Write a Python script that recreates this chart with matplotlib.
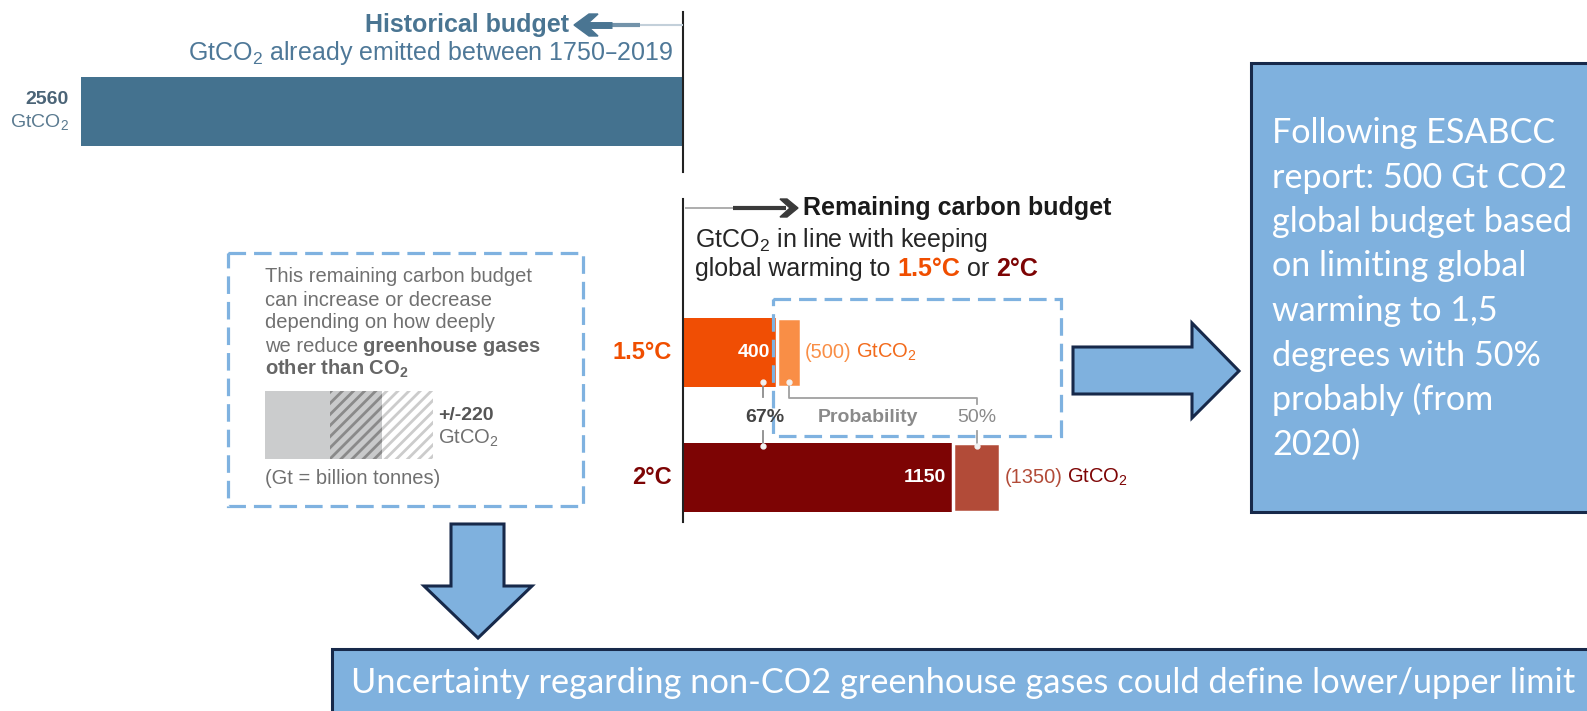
import matplotlib.pyplot as plt
from matplotlib.patches import Polygon, Rectangle

plt.rcParams['font.family'] = ['Liberation Sans', 'DejaVu Sans']
plt.rcParams['mathtext.default'] = 'regular'
plt.rcParams['hatch.linewidth'] = 2.0

# data (GtCO2)
historical = 2560
levels = ['1.5°C', '2°C']
budget_67 = [400, 1150]
budget_50 = [500, 1350]
probabilities = ['67%', '50%']
nonco2_range = 220

right_note = ['Following ESABCC', 'report: 500 Gt CO2', 'global budget based',
              'on limiting global', 'warming to 1,5', 'degrees with 50%',
              'probably (from', '2020)']
bottom_note = 'Uncertainty regarding non-CO2 greenhouse gases could define lower/upper limit'
box_lines = ['This remaining carbon budget', 'can increase or decrease',
             'depending on how deeply']

# layout (pixels)
W, H = 1587, 711
X0 = 683            # zero line
PX_PER_GT = 0.235
BAR_H = 69
Y_HIST = 111.5
Y_LEVELS = [352.5, 477.5]

HIST_COL = '#44728f'
C67 = ['#f04e04', '#7d0404']
C50 = ['#f98e46', '#b24b38']
LABEL_COL = ['#f04e00', '#7d0404']
UNIT_COL = ['#f26a1b', '#7d0404']
BLUE = '#7fb1de'
NAVY = '#17294a'
DASH = '#7fb2e0'

fig = plt.figure(figsize=(W / 100, H / 100), dpi=100)
bx = fig.add_axes([0, 0, 1, 1])
bx.set_xlim(-X0 / PX_PER_GT, (W - X0) / PX_PER_GT)
bx.set_ylim(H, 0)
bx.axis('off')

ax = fig.add_axes([0, 0, 1, 1])
ax.set_xlim(0, W)
ax.set_ylim(H, 0)
ax.axis('off')
ax.patch.set_alpha(0)
ax.set_zorder(3)

renderer = fig.canvas.get_renderer()


def seq_text(x, y, parts, gap, **kw):
    # place text pieces one after another on one line
    for s, props in parts:
        t = ax.text(x, y, s, **{**kw, **props})
        x = t.get_window_extent(renderer).x1 + gap
    return x


# --- historical budget ---
bx.barh(Y_HIST, historical, left=-historical, height=BAR_H, color=HIST_COL)
ax.plot([X0, X0], [12, 172], color='#222222', lw=1.5)
ax.plot([X0, X0], [199, 522], color='#222222', lw=1.5)

ax.plot([635, X0], [25, 25], color='#c3d0da', lw=1.5, solid_capstyle='butt')
ax.plot([610, 640], [25, 25], color='#7393aa', lw=3, solid_capstyle='butt')
ax.plot([586, 612], [25, 25], color='#4a7592', lw=5, solid_capstyle='butt')
ax.add_patch(Polygon([(574, 25), (589, 14), (598, 14), (586, 25), (598, 36), (589, 36)],
                     closed=True, color='#4a7592'))
ax.text(569, 25, 'Historical budget', fontsize=18, fontweight='bold', color='#4a7592',
        ha='right', va='center')
ax.text(673, 53, 'GtCO$_2$ already emitted between 1750–2019', fontsize=18,
        color='#4e7898', ha='right', va='center')
ax.text(69, 99, str(historical), fontsize=14, fontweight='bold', color='#4b6477',
        ha='right', va='center')
ax.text(69, 122, 'GtCO$_2$', fontsize=14, color='#5a7a90', ha='right', va='center')

# --- remaining budget ---
ax.plot([685, 735], [208, 208], color='#a0a0a0', lw=1.2, solid_capstyle='butt')
ax.plot([733, 786], [208, 208], color='#3a3a3a', lw=3, solid_capstyle='butt')
ax.add_patch(Polygon([(798, 208), (787, 199), (780, 199), (790, 208), (780, 217), (787, 217)],
                     closed=True, color='#3a3a3a'))
ax.text(803, 208, 'Remaining carbon budget', fontsize=18, fontweight='bold',
        color='#1a1a1a', va='center')
ax.text(695, 240, 'GtCO$_2$ in line with keeping', fontsize=18, color='#262626', va='center')
seq_text(695, 269, [('global warming to', {}),
                    ('1.5°C', {'fontweight': 'bold', 'color': LABEL_COL[0]}),
                    ('or', {}),
                    ('2°C', {'fontweight': 'bold', 'color': LABEL_COL[1]})],
         gap=7, fontsize=18, color='#262626', va='center')

for i, lev in enumerate(levels):
    y = Y_LEVELS[i]
    bx.barh(y, budget_67[i], left=0, height=BAR_H, color=C67[i])
    bx.barh(y, budget_50[i] - budget_67[i], left=budget_67[i], height=BAR_H,
            color=C50[i], edgecolor='white', linewidth=2.5)
    ax.text(672, y, lev, fontsize=17, fontweight='bold', color=LABEL_COL[i],
            ha='right', va='center')
    end67 = X0 + budget_67[i] * PX_PER_GT
    end50 = X0 + budget_50[i] * PX_PER_GT
    ax.text(end67 - 7, y, str(budget_67[i]), fontsize=14, fontweight='bold',
            color='white', ha='right', va='center')
    seq_text(end50 + 4, y, [(f'({budget_50[i]})', {'color': C50[i]}),
                            ('GtCO$_2$', {'color': UNIT_COL[i]})],
             gap=5, fontsize=14.5, va='center')

# probability connectors
mid50 = [X0 + (a + b) / 2 * PX_PER_GT for a, b in zip(budget_67, budget_50)]
top_bottom = Y_LEVELS[0] + BAR_H / 2 - 5
low_top = Y_LEVELS[1] - BAR_H / 2 + 3
ax.plot([763, 763], [top_bottom, 397], color='#8c8c8c', lw=1.3)
ax.plot([763, 763], [431, low_top], color='#8c8c8c', lw=1.3)
ax.plot([mid50[0], mid50[0], mid50[1], mid50[1]], [top_bottom, 398, 398, 404],
        color='#a0a0a0', lw=1.3)
ax.plot([mid50[1], mid50[1]], [431, low_top], color='#a0a0a0', lw=1.3)
ax.plot([763, 763, mid50[0], mid50[1]], [top_bottom, low_top, top_bottom, low_top],
        'o', ms=3.5, mfc='#f2f2f2', mec='#f2f2f2', ls='none')
ax.text(765, 418, probabilities[0], fontsize=14, fontweight='bold', color='#444444',
        ha='center', va='center')
ax.text(868, 418, 'Probability', fontsize=14, fontweight='bold', color='#8a8a8a',
        ha='center', va='center')
ax.text(mid50[1], 418, probabilities[1], fontsize=14, color='#8a8a8a',
        ha='center', va='center')

# dashed highlight boxes
ax.add_patch(Rectangle((773, 299), 288, 137, fill=False, edgecolor=DASH, lw=2.3,
                       linestyle=(0, (5.5, 2.5))))
ax.add_patch(Rectangle((228, 253), 355, 253, fill=False, edgecolor=DASH, lw=2.3,
                       linestyle=(0, (5.5, 2.5))))

# left box contents
for k, line in enumerate(box_lines):
    ax.text(265, 277 + 23 * k, line, fontsize=14.5, color='#707070', va='center')
seq_text(265, 346, [('we reduce', {}),
                    ('greenhouse gases', {'fontweight': 'bold', 'color': '#666666'})],
         gap=5, fontsize=14.5, color='#707070', va='center')
ax.text(265, 369, 'other than CO$_2$', fontsize=14.5, fontweight='bold',
        color='#666666', va='center')
ax.add_patch(Rectangle((265, 391), 65, 68, facecolor='#cbcccd', lw=0))
lx = (330 - X0) / PX_PER_GT
bx.barh(425, nonco2_range, left=lx, height=68, color='#c9cacb', edgecolor='#8a8a8a',
        hatch='///', linewidth=0)
bx.barh(425, nonco2_range, left=lx + nonco2_range, height=68, color='white',
        edgecolor='#cccccc', hatch='///', linewidth=0)
ax.text(438, 415, f'+/-{nonco2_range}', fontsize=14, fontweight='bold', color='#555555',
        va='center')
ax.text(438, 438, 'GtCO$_2$', fontsize=14.5, color='#707070', va='center')
ax.text(265, 478, '(Gt = billion tonnes)', fontsize=14.5, color='#707070', va='center')

# block arrows
ax.add_patch(Polygon([(1073, 347), (1192, 347), (1192, 323), (1239, 371), (1192, 418),
                      (1192, 394), (1073, 394)], closed=True, facecolor=BLUE,
                     edgecolor=NAVY, lw=2.2, joinstyle='miter'))
ax.add_patch(Polygon([(451, 524), (504, 524), (504, 586), (532, 586), (478, 638),
                      (424, 586), (451, 586)], closed=True, facecolor=BLUE,
                     edgecolor=NAVY, lw=2.2, joinstyle='miter'))

# note boxes
ax.add_patch(Rectangle((1251, 63), 400, 449, facecolor=BLUE, edgecolor=NAVY, lw=2.2))
for k, line in enumerate(right_note):
    ax.text(1272, 143 + 44.5 * k, line, fontsize=24.6, family=['Lato', 'DejaVu Sans'],
            color='white', va='baseline')
ax.add_patch(Rectangle((332, 649), 1300, 100, facecolor=BLUE, edgecolor=NAVY, lw=2.2))
ax.text(351, 683, bottom_note, fontsize=24.75, family=['Lato', 'DejaVu Sans'],
        color='white', va='center')

fig.savefig('out.png', dpi=100)
